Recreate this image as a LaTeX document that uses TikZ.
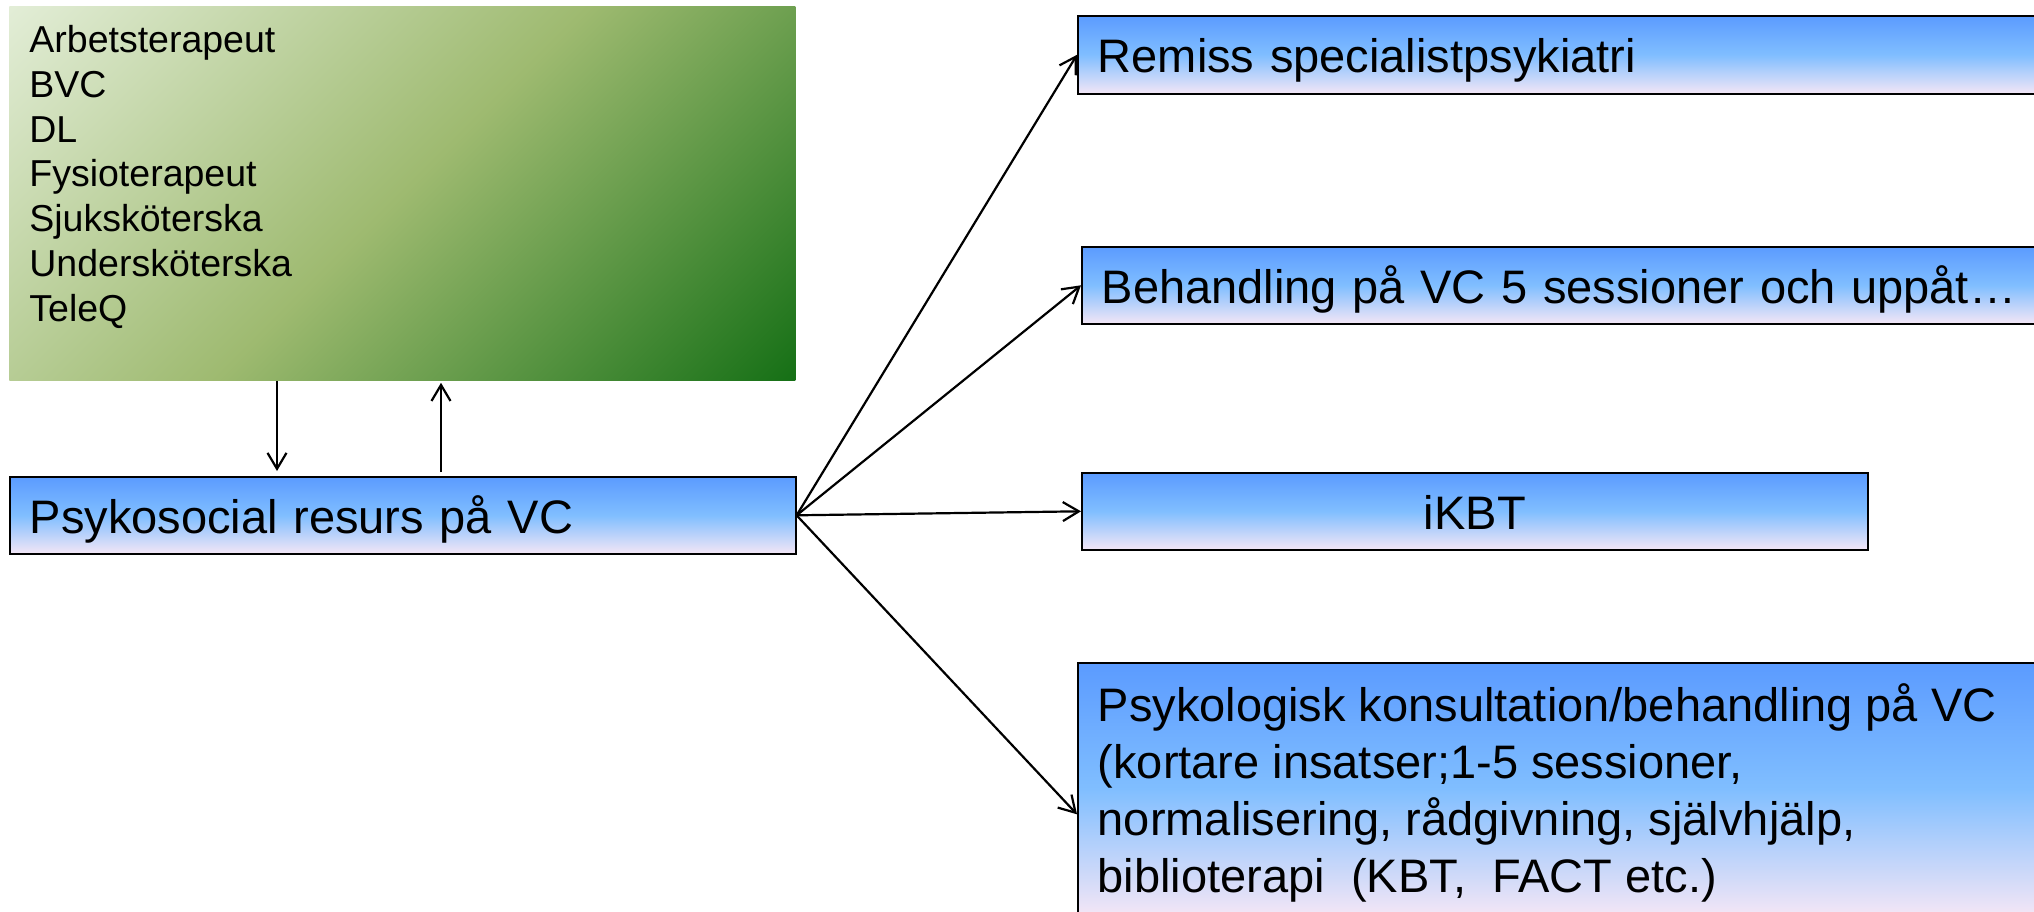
\documentclass[tikz,border=0pt]{standalone}
\usepackage{fontspec}
\setmainfont{Liberation Sans}
\usetikzlibrary{arrows.meta}

\definecolor{boxtop}{RGB}{91,155,255}
\definecolor{boxmid}{RGB}{128,190,255}
\definecolor{boxbot}{RGB}{243,230,246}
\definecolor{grlight}{RGB}{226,237,214}
\definecolor{grmid}{RGB}{158,186,112}
\definecolor{grdark}{RGB}{22,112,22}

\begin{document}
\begin{tikzpicture}[x=0.5pt,y=-0.5pt,
  bluebox/.style={draw=black,line width=0.8pt,top color=boxtop,bottom color=boxbot,middle color=boxmid,
    anchor=north west,inner xsep=10pt,inner ysep=0pt,font=\fontsize{23.5pt}{28.5pt}\selectfont},
  onebox/.style={text height=18pt,text depth=0pt},
  greenbox/.style={anchor=north west,inner xsep=10pt,inner ysep=9.5pt,font=\fontsize{18.75pt}{22.4pt}\selectfont,
    path picture={\shade[top color=grlight,bottom color=grdark,middle color=grmid,shading angle=45]
      ([shift={(-410,-410)}]path picture bounding box.center) rectangle +(820,820);}},
  arr/.style={line width=1.1pt,-{Straight Barb[length=8pt,width=9.5pt]}}]
\useasboundingbox (0,0) rectangle (2034,911);
\clip (0,0) rectangle (2034,911);

\node[greenbox] (staff) at (9,6)
  {\parbox[c][168pt][t]{373pt}{Arbetsterapeut\\BVC\\DL\\Fysioterapeut\\Sjuksköterska\\Undersköterska\\TeleQ}};

\node[bluebox,onebox,text width=373pt,minimum height=38.5pt] (psy) at (9,476) {Psykosocial resurs på VC};

\node[bluebox,onebox,text width=480pt,minimum height=39pt] (remiss) at (1077,15) {Remiss specialistpsykiatri};
\node[bluebox,onebox,text width=480pt,minimum height=38.5pt] (beh) at (1081,246) {Behandling på VC 5 sessioner och uppåt…};
\node[bluebox,onebox,minimum width=393pt,minimum height=38.5pt] (ikbt) at (1081,472) {iKBT};
\node[bluebox,inner ysep=10.5pt] (psyk) at (1077,662)
  {\parbox[c][105pt][t]{480pt}{Psykologisk konsultation/behandling på VC\\(kortare insatser;1-5 sessioner,\\normalisering, rådgivning, självhjälp,\\biblioterapi~ (KBT,~ FACT etc.)\par\vspace{-6pt}}};

\draw[arr,shorten >=2.5pt] ([xshift=134pt]staff.south west) -- ([xshift=134pt]psy.north west);
\draw[arr,shorten <=2pt,shorten >=1pt] ([xshift=216pt]psy.north west) -- ([xshift=216pt]staff.south west);

\draw[arr] (psy.east) -- (remiss.west);
\draw[arr] (psy.east) -- (beh.west);
\draw[arr] (psy.east) -- (ikbt.west);
\draw[arr] (psy.east) -- ([yshift=-12.75pt]psyk.west);
\end{tikzpicture}
\end{document}
